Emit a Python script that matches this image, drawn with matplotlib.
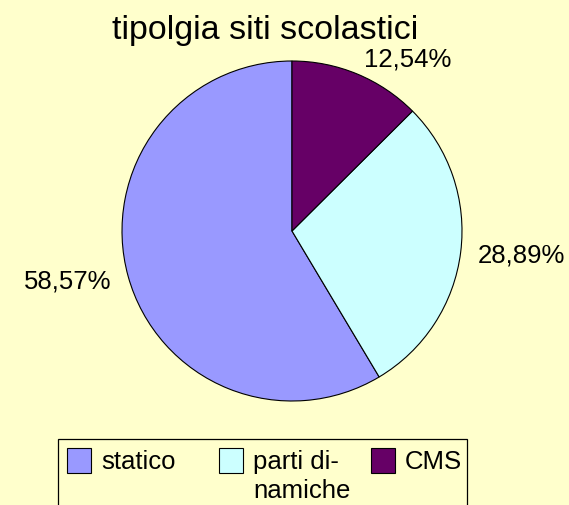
"""Pie chart: tipolgia siti scolastici."""

import matplotlib

matplotlib.use("Agg")
import matplotlib.pyplot as plt
from matplotlib.patches import Rectangle

CATEGORIES = ["statico", "parti dinamiche", "CMS"]
LEGEND_LABELS = ["statico", "parti di-\nnamiche", "CMS"]
SHARES = [58.57, 28.89, 12.54]
COLORS = ["#9999FF", "#CCFFFF", "#660066"]
BACKGROUND = "#FFFFCC"

plt.rcParams["font.family"] = ["Liberation Sans", "DejaVu Sans"]

W, H = 569, 506
fig = plt.figure(figsize=(W / 100, H / 100), dpi=100, facecolor=BACKGROUND)

# pie centre (292, 232) px, radius 170 px; pie() uses limits of +-1.25
cx, cy, r = 292, 232, 170
half = 1.25 * r
ax = fig.add_axes([(cx - half) / W, (H - cy - half) / H, 2 * half / W, 2 * half / H])
ax.set_facecolor(BACKGROUND)

labels = [f"{v:.2f}%".replace(".", ",") for v in SHARES]
wedges, texts = ax.pie(
    SHARES,
    labels=labels,
    colors=COLORS,
    startangle=90,
    counterclock=True,
    labeldistance=1.1,
    wedgeprops={"edgecolor": "black", "linewidth": 0.8},
    textprops={"fontsize": 18.5, "color": "black"},
)
ax.set_aspect("equal")

fig.text(265 / W, 1 - 39 / H, "tipolgia siti scolastici", ha="center", va="baseline",
         fontsize=24.5)


# legend drawn by hand so the wrapped label hangs below its swatch, as in the original
def px(x, y):
    return x / W, 1 - y / H


frame_x0, frame_x1, frame_top = 58, 467, 440
fig.patches.append(Rectangle(px(frame_x0, H + 5), (frame_x1 - frame_x0) / W,
                             (H + 5 - frame_top) / H, transform=fig.transFigure,
                             facecolor="none", edgecolor="black", linewidth=0.9))
swatch_x = [67, 219, 371]
for x0, color, label in zip(swatch_x, COLORS, LEGEND_LABELS):
    fig.patches.append(Rectangle(px(x0, 474), 24 / W, 25 / H, transform=fig.transFigure,
                                 facecolor=color, edgecolor="black", linewidth=0.8))
    for i, line in enumerate(label.split("\n")):
        fig.text(*px(x0 + 34, 469 + 29 * i), line, ha="left", va="baseline",
                 fontsize=18.5)

fig.savefig("out.png", dpi=100, facecolor=BACKGROUND)
